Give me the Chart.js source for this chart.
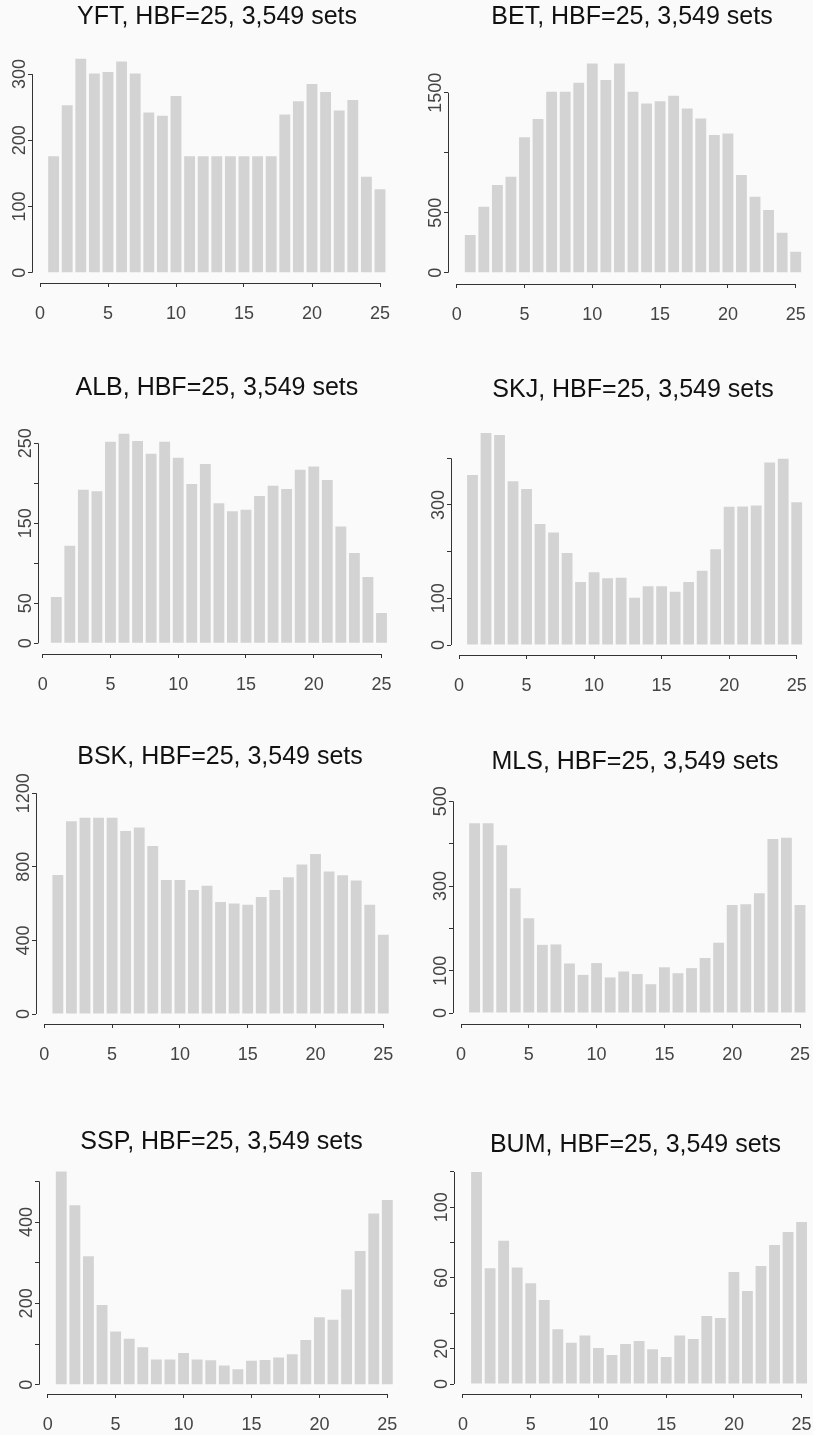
<!DOCTYPE html>
<html>
<head>
<meta charset="utf-8">
<script src="https://cdn.jsdelivr.net/npm/chart.js@4.4.1/dist/chart.umd.min.js"></script>
<style>
    html, body { margin: 0; padding: 0; background: #fafafa; overflow: hidden; }
    #page { position: relative; width: 813px; height: 1435px; overflow: hidden; }
    canvas { position: absolute; }
</style>
</head>
<body>
<div id="page"></div>
<script>
// hooks per set (x), counts per species (y)
const hooks = [1, 2, 3, 4, 5, 6, 7, 8, 9, 10, 11, 12, 13, 14, 15, 16, 17, 18, 19, 20, 21, 22, 23, 24, 25];
const xTicks = [0, 5, 10, 15, 20, 25];

const yft = [176, 253, 323, 301, 303, 319, 301, 242, 237, 267, 176, 176, 176, 176, 176, 176, 176, 239, 259, 285, 273, 245, 261, 145, 126];
const bet = [314, 550, 731, 800, 1128, 1281, 1508, 1508, 1583, 1744, 1606, 1744, 1508, 1411, 1428, 1475, 1369, 1286, 1147, 1161, 814, 633, 522, 333, 175];
const alb = [58, 122, 192, 190, 252, 262, 253, 237, 252, 232, 199, 224, 175, 165, 167, 184, 197, 193, 217, 221, 204, 146, 113, 83, 38];
const skj = [364, 454, 450, 351, 334, 259, 241, 197, 135, 156, 143, 144, 101, 126, 126, 114, 135, 159, 205, 296, 297, 299, 391, 399, 306];
const bsk = [755, 1047, 1067, 1067, 1067, 995, 1013, 913, 728, 728, 674, 697, 609, 601, 594, 636, 674, 743, 812, 870, 774, 754, 725, 594, 431];
const mls = [448, 448, 396, 295, 224, 161, 162, 117, 90, 118, 84, 98, 92, 68, 108, 94, 106, 130, 166, 255, 257, 283, 411, 414, 255];
const ssp = [524, 441, 316, 196, 131, 113, 92, 62, 62, 78, 62, 60, 47, 38, 59, 61, 67, 75, 110, 166, 160, 234, 329, 421, 454];
const bum = [120, 65.5, 81, 66, 57, 47.5, 31, 23.4, 27.5, 20.4, 16.4, 22.6, 24.3, 19.6, 15.3, 27.4, 25.5, 38.5, 37.4, 63.4, 52.6, 66.8, 78.7, 86, 91.7];

const yftTicks = [0, 100, 200, 300];
const yftLabels = [0, 100, 200, 300];
const betTicks = [0, 500, 1000, 1500];
const betLabels = [0, 500, 1500];
const albTicks = [0, 50, 100, 150, 200, 250];
const albLabels = [0, 50, 150, 250];
const skjTicks = [0, 100, 200, 300, 400];
const skjLabels = [0, 100, 300];
const bskTicks = [0, 400, 800, 1200];
const bskLabels = [0, 400, 800, 1200];
const mlsTicks = [0, 100, 200, 300, 400, 500];
const mlsLabels = [0, 100, 300, 500];
const sspTicks = [0, 100, 200, 300, 400, 500];
const sspLabels = [0, 200, 400];
const bumTicks = [0, 20, 40, 60, 80, 100, 120];
const bumLabels = [0, 20, 60, 100];

const FONT = '"Liberation Sans", Arial, Helvetica, sans-serif';
const TITLE_SIZE = 25;
const TITLE_PAD = 4;
const YW = 30;
const XH = 50;
const PAD_RIGHT = 12;

// where each panel sits on the page (pixels of the page)
const panels = [
    {name: 'YFT', values: yft, ticks: yftTicks, labels: yftLabels, x0: 40, x25: 380, y0: 272.7, ypu: 0.662, axisX: 32, axisY: 283, titleX: 217, titleY: 17},
    {name: 'BET', values: bet, ticks: betTicks, labels: betLabels, x0: 456.7, x25: 795.7, y0: 272.7, ypu: 0.12, axisX: 448, axisY: 284, titleX: 632, titleY: 17},
    {name: 'ALB', values: alb, ticks: albTicks, labels: albLabels, x0: 42.7, x25: 381.7, y0: 643.3, ypu: 0.8, axisX: 37.7, axisY: 654, titleX: 217, titleY: 388},
    {name: 'SKJ', values: skj, ticks: skjTicks, labels: skjLabels, x0: 459, x25: 796.7, y0: 645, ypu: 0.4667, axisX: 450.7, axisY: 655, titleX: 633, titleY: 390},
    {name: 'BSK', values: bsk, ticks: bskTicks, labels: bskLabels, x0: 44.3, x25: 383.3, y0: 1014, ypu: 0.184, axisX: 36, axisY: 1024, titleX: 220, titleY: 757},
    {name: 'MLS', values: mls, ticks: mlsTicks, labels: mlsLabels, x0: 461, x25: 800, y0: 1013, ypu: 0.4233, axisX: 453.3, axisY: 1024, titleX: 635, titleY: 762},
    {name: 'SSP', values: ssp, ticks: sspTicks, labels: sspLabels, x0: 47.7, x25: 387.7, y0: 1384.7, ypu: 0.4067, axisX: 39.3, axisY: 1394, titleX: 221.7, titleY: 1142},
    {name: 'BUM', values: bum, ticks: bumTicks, labels: bumLabels, x0: 463, x25: 802, y0: 1384, ypu: 1.767, axisX: 454.3, axisY: 1394, titleX: 635.7, titleY: 1145},
];

// R style axes: detached lines, rotated y labels
const rAxes = {
    id: 'rAxes',
    afterDraw(chart, args, opts) {
        const {ctx, chartArea, scales: {x, y}} = chart;
        ctx.save();
        ctx.strokeStyle = '#333';
        ctx.lineWidth = 1;
        ctx.beginPath();
        const ax = Math.round(chartArea.left) + 0.5;
        ctx.moveTo(ax, y.getPixelForValue(0));
        ctx.lineTo(ax, y.getPixelForValue(opts.ticks[opts.ticks.length - 1]));
        const ay = Math.round(chartArea.bottom) + 0.5;
        ctx.moveTo(x.getPixelForValue(0), ay);
        ctx.lineTo(x.getPixelForValue(25), ay);
        ctx.stroke();

        ctx.fillStyle = '#444';
        ctx.font = '18px ' + FONT;
        ctx.textAlign = 'center';
        ctx.textBaseline = 'middle';
        opts.labels.forEach(v => {
            ctx.save();
            ctx.translate(chartArea.left - 12, y.getPixelForValue(v));
            ctx.rotate(-Math.PI / 2);
            ctx.fillText(String(v), 0, 0);
            ctx.restore();
        });
        ctx.restore();
    },
};

function showPanel(p) {
    const xpu = (p.x25 - p.x0) / 25;
    const left = Math.round(p.axisX - YW);
    const top = Math.round(p.titleY - TITLE_PAD - TITLE_SIZE * 0.6);
    const areaLeft = left + YW;
    const areaRight = 2 * p.titleX - areaLeft;
    const width = Math.round(areaRight + PAD_RIGHT - left);
    const height = Math.round(p.axisY + XH - top);
    const areaBottom = top + height - XH;

    const peak = Math.max(...p.values, ...p.ticks) * 1.03;
    const titleBlock = TITLE_PAD + TITLE_SIZE * 1.2;
    const padBottom = Math.max(0, (p.y0 - peak * p.ypu) - top - titleBlock);
    const areaTop = top + titleBlock + padBottom;

    const canvas = document.createElement('canvas');
    canvas.width = width;
    canvas.height = height;
    canvas.style.left = left + 'px';
    canvas.style.top = top + 'px';
    canvas.style.width = width + 'px';
    canvas.style.height = height + 'px';
    document.getElementById('page').appendChild(canvas);

    return new Chart(canvas, {
        type   : 'bar',
        data   : {
            datasets: [{
                data              : p.values.map((v, i) => ({x: hooks[i], y: v})),
                backgroundColor   : '#d3d3d3',
                borderWidth       : 0,
                barPercentage     : 0.8,
                categoryPercentage: 1,
            }],
        },
        plugins: [rAxes],
        options: {
            responsive : false,
            animation  : false,
            devicePixelRatio: 1,
            layout     : {padding: {left: 0, right: PAD_RIGHT, top: 0, bottom: 0}},
            plugins    : {
                legend : {display: false},
                tooltip: {enabled: false},
                title  : {
                    display : true,
                    fullSize: false,
                    text    : p.name + ', HBF=25, 3,549 sets',
                    color   : '#111',
                    font    : {family: FONT, size: TITLE_SIZE, weight: 'normal'},
                    padding : {top: TITLE_PAD, bottom: padBottom},
                },
                rAxes  : {ticks: p.ticks, labels: p.labels},
            },
            scales     : {
                x: {
                    type  : 'linear',
                    offset: false,
                    min   : (areaLeft - p.x0) / xpu,
                    max   : (areaRight - p.x0) / xpu,
                    afterBuildTicks: s => { s.ticks = xTicks.map(v => ({value: v})); },
                    afterFit: s => { s.height = XH; },
                    border: {display: false},
                    grid  : {offset: false, drawOnChartArea: false, drawTicks: true, tickLength: 4, color: '#333'},
                    ticks : {color: '#444', font: {family: FONT, size: 18}, padding: 16, autoSkip: false, maxRotation: 0},
                },
                y: {
                    min   : -(areaBottom - p.y0) / p.ypu,
                    max   : (p.y0 - areaTop) / p.ypu,
                    afterBuildTicks: s => { s.ticks = p.ticks.map(v => ({value: v})); },
                    afterFit: s => { s.width = YW; },
                    border: {display: false},
                    grid  : {drawOnChartArea: false, drawTicks: true, tickLength: 4, color: '#333'},
                    ticks : {display: false},
                },
            },
        },
    });
}

panels.forEach(showPanel);
</script>
</body>
</html>
